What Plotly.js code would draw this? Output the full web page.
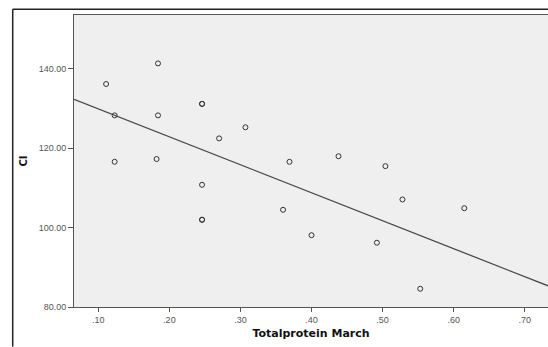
<!DOCTYPE html>
<html><head><meta charset="utf-8">
<script src="https://cdn.plot.ly/plotly-3.0.1.min.js"></script>
<style>html,body{margin:0;padding:0;background:#fff;}#chart{width:548px;height:347px;}</style>
</head><body><div id="chart"></div>
<script>
// Data
const totalProtein = [0.111, 0.184, 0.123, 0.184, 0.246, 0.246, 0.270, 0.307, 0.123, 0.182, 0.369, 0.438, 0.504, 0.246, 0.246, 0.246, 0.360, 0.400, 0.528, 0.492, 0.615, 0.553];
const ciValues     = [136.2, 141.4, 128.3, 128.3, 131.2, 131.2, 122.5, 125.3, 116.6, 117.3, 116.6, 118.0, 115.5, 110.8, 102.0, 102.0, 104.5, 98.1, 107.1, 96.2, 104.9, 84.6];
// Linear fit line coefficients
const fitIntercept = 137.0;
const fitSlope = -70.5;
const xTickVals = [0.1, 0.2, 0.3, 0.4, 0.5, 0.6, 0.7];
const xTickText = ['.10', '.20', '.30', '.40', '.50', '.60', '.70'];
const yTickVals = [80, 100, 120, 140];
const yTickText = ['80.00', '100.00', '120.00', '140.00'];

const xRange = [0.0658, 0.7328];
const yRange = [80, 153.6];
const fitX = xRange.slice();
const fitY = fitX.map(x => fitIntercept + fitSlope * x);

const traces = [
  {
    x: fitX, y: fitY, type: 'scatter', mode: 'lines',
    line: {color: '#4a4a4a', width: 1.3}, hoverinfo: 'skip', showlegend: false, cliponaxis: true
  },
  {
    x: totalProtein, y: ciValues, type: 'scatter', mode: 'markers',
    marker: {symbol: 'circle-open', size: 5, color: '#333', line: {width: 1, color: '#333'}},
    showlegend: false
  }
];

const tickFont = {family: '"Liberation Sans", Arial, sans-serif', size: 9, color: '#555'};
const titleFont = {family: '"DejaVu Sans", "Liberation Sans", Arial, sans-serif', size: 11, color: '#111', weight: 'bold'};
const layout = {
  width: 548, height: 347,
  margin: {l: 74, r: 0, t: 15, b: 40, pad: 0},
  paper_bgcolor: '#ffffff',
  plot_bgcolor: '#efefef',
  showlegend: false,
  xaxis: {
    range: xRange, tickvals: xTickVals, ticktext: xTickText,
    ticks: 'outside', ticklen: 4, tickwidth: 1, tickcolor: '#555',
    showgrid: false, zeroline: false,
    showline: true, linecolor: '#555', linewidth: 1, mirror: true,
    tickfont: tickFont, automargin: false,
    title: {text: 'Totalprotein March', font: titleFont, standoff: 5}
  },
  yaxis: {
    range: yRange, tickvals: yTickVals, ticktext: yTickText,
    ticks: 'outside', ticklen: 5, tickwidth: 1, tickcolor: '#555',
    showgrid: false, zeroline: false,
    showline: true, linecolor: '#555', linewidth: 1,
    tickfont: tickFont, automargin: false,
    title: {text: 'CI', font: {family: titleFont.family, size: 10, color: '#111', weight: 'bold'}, standoff: 9}
  },
  shapes: [
    {type: 'line', xref: 'paper', yref: 'paper', x0: -0.1293, x1: -0.1293, y0: 1.0195, y1: -0.135, line: {color: '#222', width: 1.5}},
    {type: 'line', xref: 'paper', yref: 'paper', x0: -0.1293, x1: 1.01, y0: 1.0195, y1: 1.0195, line: {color: '#222', width: 1.5}}
  ]
};

Plotly.newPlot('chart', traces, layout, {displayModeBar: false, staticPlot: true});
</script>
</body></html>
